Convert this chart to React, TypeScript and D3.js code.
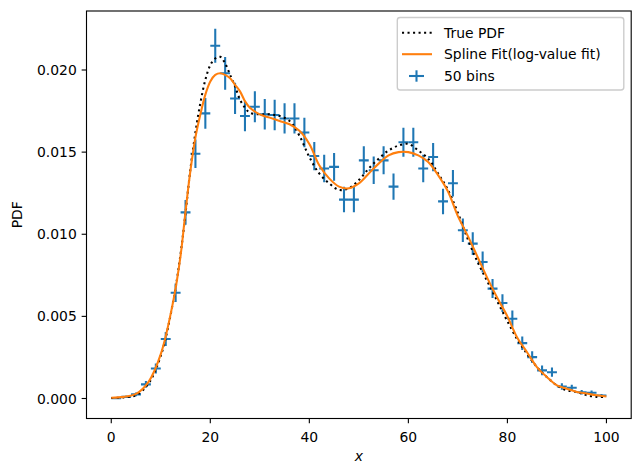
import React from 'react';
import * as d3 from 'd3';

// histogram: 50 bins of width 2 over [0, 100]
const binCenters = [
  1, 3, 5, 7, 9, 11, 13, 15, 17, 19, 21, 23, 25, 27, 29, 31, 33, 35, 37, 39, 41, 43, 45, 47, 49,
  51, 53, 55, 57, 59, 61, 63, 65, 67, 69, 71, 73, 75, 77, 79, 81, 83, 85, 87, 89, 91, 93, 95, 97, 99,
];
const binDensity = [
  0.00002, 0.0001, 0.00025, 0.00086, 0.00183, 0.00362, 0.00644, 0.01133, 0.0149, 0.01736,
  0.02148, 0.0198, 0.01827, 0.0172, 0.01776, 0.0173, 0.01726, 0.01705, 0.01705, 0.0162,
  0.01476, 0.014, 0.0141, 0.01211, 0.01211, 0.0145, 0.0139, 0.0145, 0.0129, 0.0156,
  0.0156, 0.014, 0.0147, 0.012, 0.0131, 0.01024, 0.00943, 0.00831, 0.00669, 0.00581,
  0.00486, 0.00337, 0.00252, 0.00171, 0.0016, 0.00073, 0.00065, 0.00038, 0.00035, 0.00018,
];
const binError = [
  0.000022, 0.000071, 0.000112, 0.000207, 0.000302, 0.000425, 0.000567, 0.000753, 0.000863, 0.000932,
  0.001036, 0.000995, 0.000956, 0.000927, 0.000942, 0.00093, 0.000929, 0.000923, 0.000923, 0.0009,
  0.000859, 0.000837, 0.00084, 0.000778, 0.000778, 0.000851, 0.000834, 0.000851, 0.000803, 0.000883,
  0.000883, 0.000837, 0.000857, 0.000775, 0.000809, 0.000716, 0.000687, 0.000645, 0.000578, 0.000539,
  0.000493, 0.00041, 0.000355, 0.000292, 0.000283, 0.000191, 0.00018, 0.000138, 0.000132, 0.000095,
];
const binHalfWidth = 1;

// sampled curves
const curveX = [
  0, 2.5, 5, 7.5, 10, 12.5, 14, 15, 16, 17, 18, 19, 20, 21, 22, 23, 24, 25, 26, 27, 28, 30, 32, 34,
  36, 38, 40, 42, 44, 46, 48, 50, 52, 54, 56, 58, 60, 62, 64, 66, 68, 70, 72, 74, 76, 78, 80, 82, 84,
  86, 88, 90, 92, 94, 96, 98, 100,
];
const truePdf = [
  0.00003, 0.00007, 0.0002, 0.0009, 0.0026, 0.0059, 0.0088, 0.0113, 0.014, 0.0162, 0.018, 0.0194,
  0.0203, 0.0207, 0.0208, 0.0204, 0.0197, 0.019, 0.0182, 0.0177, 0.0174, 0.0173, 0.0173, 0.0172,
  0.0169, 0.016, 0.0147, 0.0137, 0.0131, 0.0127, 0.0128, 0.0133, 0.014, 0.0146, 0.0151, 0.0154,
  0.0155, 0.0151, 0.0146, 0.0137, 0.0127, 0.0113, 0.0097, 0.0083, 0.0071, 0.0059, 0.0047, 0.0036,
  0.0027, 0.0019, 0.0013, 0.0008, 0.0005, 0.0004, 0.0002, 0.0001, 0.0001,
];
const splineFit = [
  0.00005, 0.0001, 0.00028, 0.001, 0.0027, 0.0059, 0.0087, 0.0114, 0.0139, 0.0159, 0.0173, 0.0185,
  0.0193, 0.0197, 0.0198, 0.0197, 0.0195, 0.0191, 0.0187, 0.0181, 0.0177, 0.0173, 0.0171, 0.0169,
  0.0167, 0.0163, 0.0155, 0.0142, 0.0134, 0.0129, 0.0128, 0.0131, 0.0137, 0.0143, 0.0148, 0.015,
  0.015, 0.0148, 0.0144, 0.0136, 0.0126, 0.0111, 0.0099, 0.0086, 0.0073, 0.0061, 0.005, 0.0037,
  0.0028, 0.0019, 0.0013, 0.0008, 0.0006, 0.0004, 0.0003, 0.0002, 0.00012,
];

const xTicks = [0, 20, 40, 60, 80, 100];
const yTicks = [0, 0.005, 0.01, 0.015, 0.02];

const legendLabels = ['True PDF', 'Spline Fit(log-value fit)', '50 bins'];

const width = 642;
const height = 475;
const plot = { left: 86.5, right: 631.2, top: 11, bottom: 418.5 };

const blue = '#1f77b4';
const orange = '#ff7f0e';
const font = 'DejaVu Sans, sans-serif';
const fs = 13.9;
const lw = 2.08;

export default function App() {
  const x = d3.scaleLinear().domain([-5, 105]).range([plot.left, plot.right]);
  const y = d3.scaleLinear().domain([0, 0.02]).range([398.5, 70]);

  const line = d3
    .line<number>()
    .x((_, i) => x(curveX[i]))
    .y((d) => y(d))
    .curve(d3.curveCatmullRom.alpha(0.5));

  const fmtY = d3.format('.3f');

  return (
    <svg
      width={width}
      height={height}
      style={{ position: 'absolute', left: 0, top: 0, background: '#fff' }}
      fontFamily={font}
    >
      <defs>
        <clipPath id="plotArea">
          <rect x={plot.left} y={plot.top} width={plot.right - plot.left} height={plot.bottom - plot.top} />
        </clipPath>
      </defs>

      <g clipPath="url(#plotArea)">
        {/* error bars */}
        <g stroke={blue} strokeWidth={lw}>
          {binCenters.map((c, i) => (
            <g key={c}>
              <line x1={x(c - binHalfWidth)} x2={x(c + binHalfWidth)} y1={y(binDensity[i])} y2={y(binDensity[i])} />
              <line x1={x(c)} x2={x(c)} y1={y(binDensity[i] - binError[i])} y2={y(binDensity[i] + binError[i])} />
            </g>
          ))}
        </g>
        <path d={line(truePdf) ?? ''} fill="none" stroke="#000" strokeWidth={lw} strokeDasharray="2.08 3.44" />
        <path d={line(splineFit) ?? ''} fill="none" stroke={orange} strokeWidth={lw} />
      </g>

      {/* frame */}
      <rect
        x={plot.left}
        y={plot.top}
        width={plot.right - plot.left}
        height={plot.bottom - plot.top}
        fill="none"
        stroke="#000"
        strokeWidth={1.11}
      />

      {/* x axis */}
      <g fontSize={fs} textAnchor="middle">
        {xTicks.map((t) => (
          <g key={t}>
            <line x1={x(t)} x2={x(t)} y1={plot.bottom} y2={plot.bottom + 4.86} stroke="#000" strokeWidth={1.11} />
            <text x={x(t)} y={441.5}>{t}</text>
          </g>
        ))}
        <text x={(plot.left + plot.right) / 2} y={461} fontStyle="italic">
          x
        </text>
      </g>

      {/* y axis */}
      <g fontSize={fs} textAnchor="end">
        {yTicks.map((t) => (
          <g key={t}>
            <line x1={plot.left - 4.86} x2={plot.left} y1={y(t)} y2={y(t)} stroke="#000" strokeWidth={1.11} />
            <text x={plot.left - 9.7} y={y(t) + 5}>{fmtY(t)}</text>
          </g>
        ))}
        <text transform={`translate(22,${(plot.top + plot.bottom) / 2}) rotate(-90)`} textAnchor="middle">
          PDF
        </text>
      </g>

      {/* legend */}
      <g fontSize={fs}>
        <rect x={397.3} y={17.5} width={226.5} height={72.5} rx={2.8} fill="#fff" fillOpacity={0.8} stroke="#cccccc" strokeWidth={1.39} />
        <line x1={402} x2={432} y1={32.7} y2={32.7} stroke="#000" strokeWidth={lw} strokeDasharray="2.08 3.44" />
        <line x1={402} x2={432} y1={54.2} y2={54.2} stroke={orange} strokeWidth={lw} />
        <line x1={409} x2={424} y1={76} y2={76} stroke={blue} strokeWidth={lw} />
        <line x1={416.5} x2={416.5} y1={70.3} y2={81.7} stroke={blue} strokeWidth={lw} />
        {legendLabels.map((l, i) => (
          <text key={l} x={444} y={37.7 + i * 21.6}>
            {l}
          </text>
        ))}
      </g>
    </svg>
  );
}
